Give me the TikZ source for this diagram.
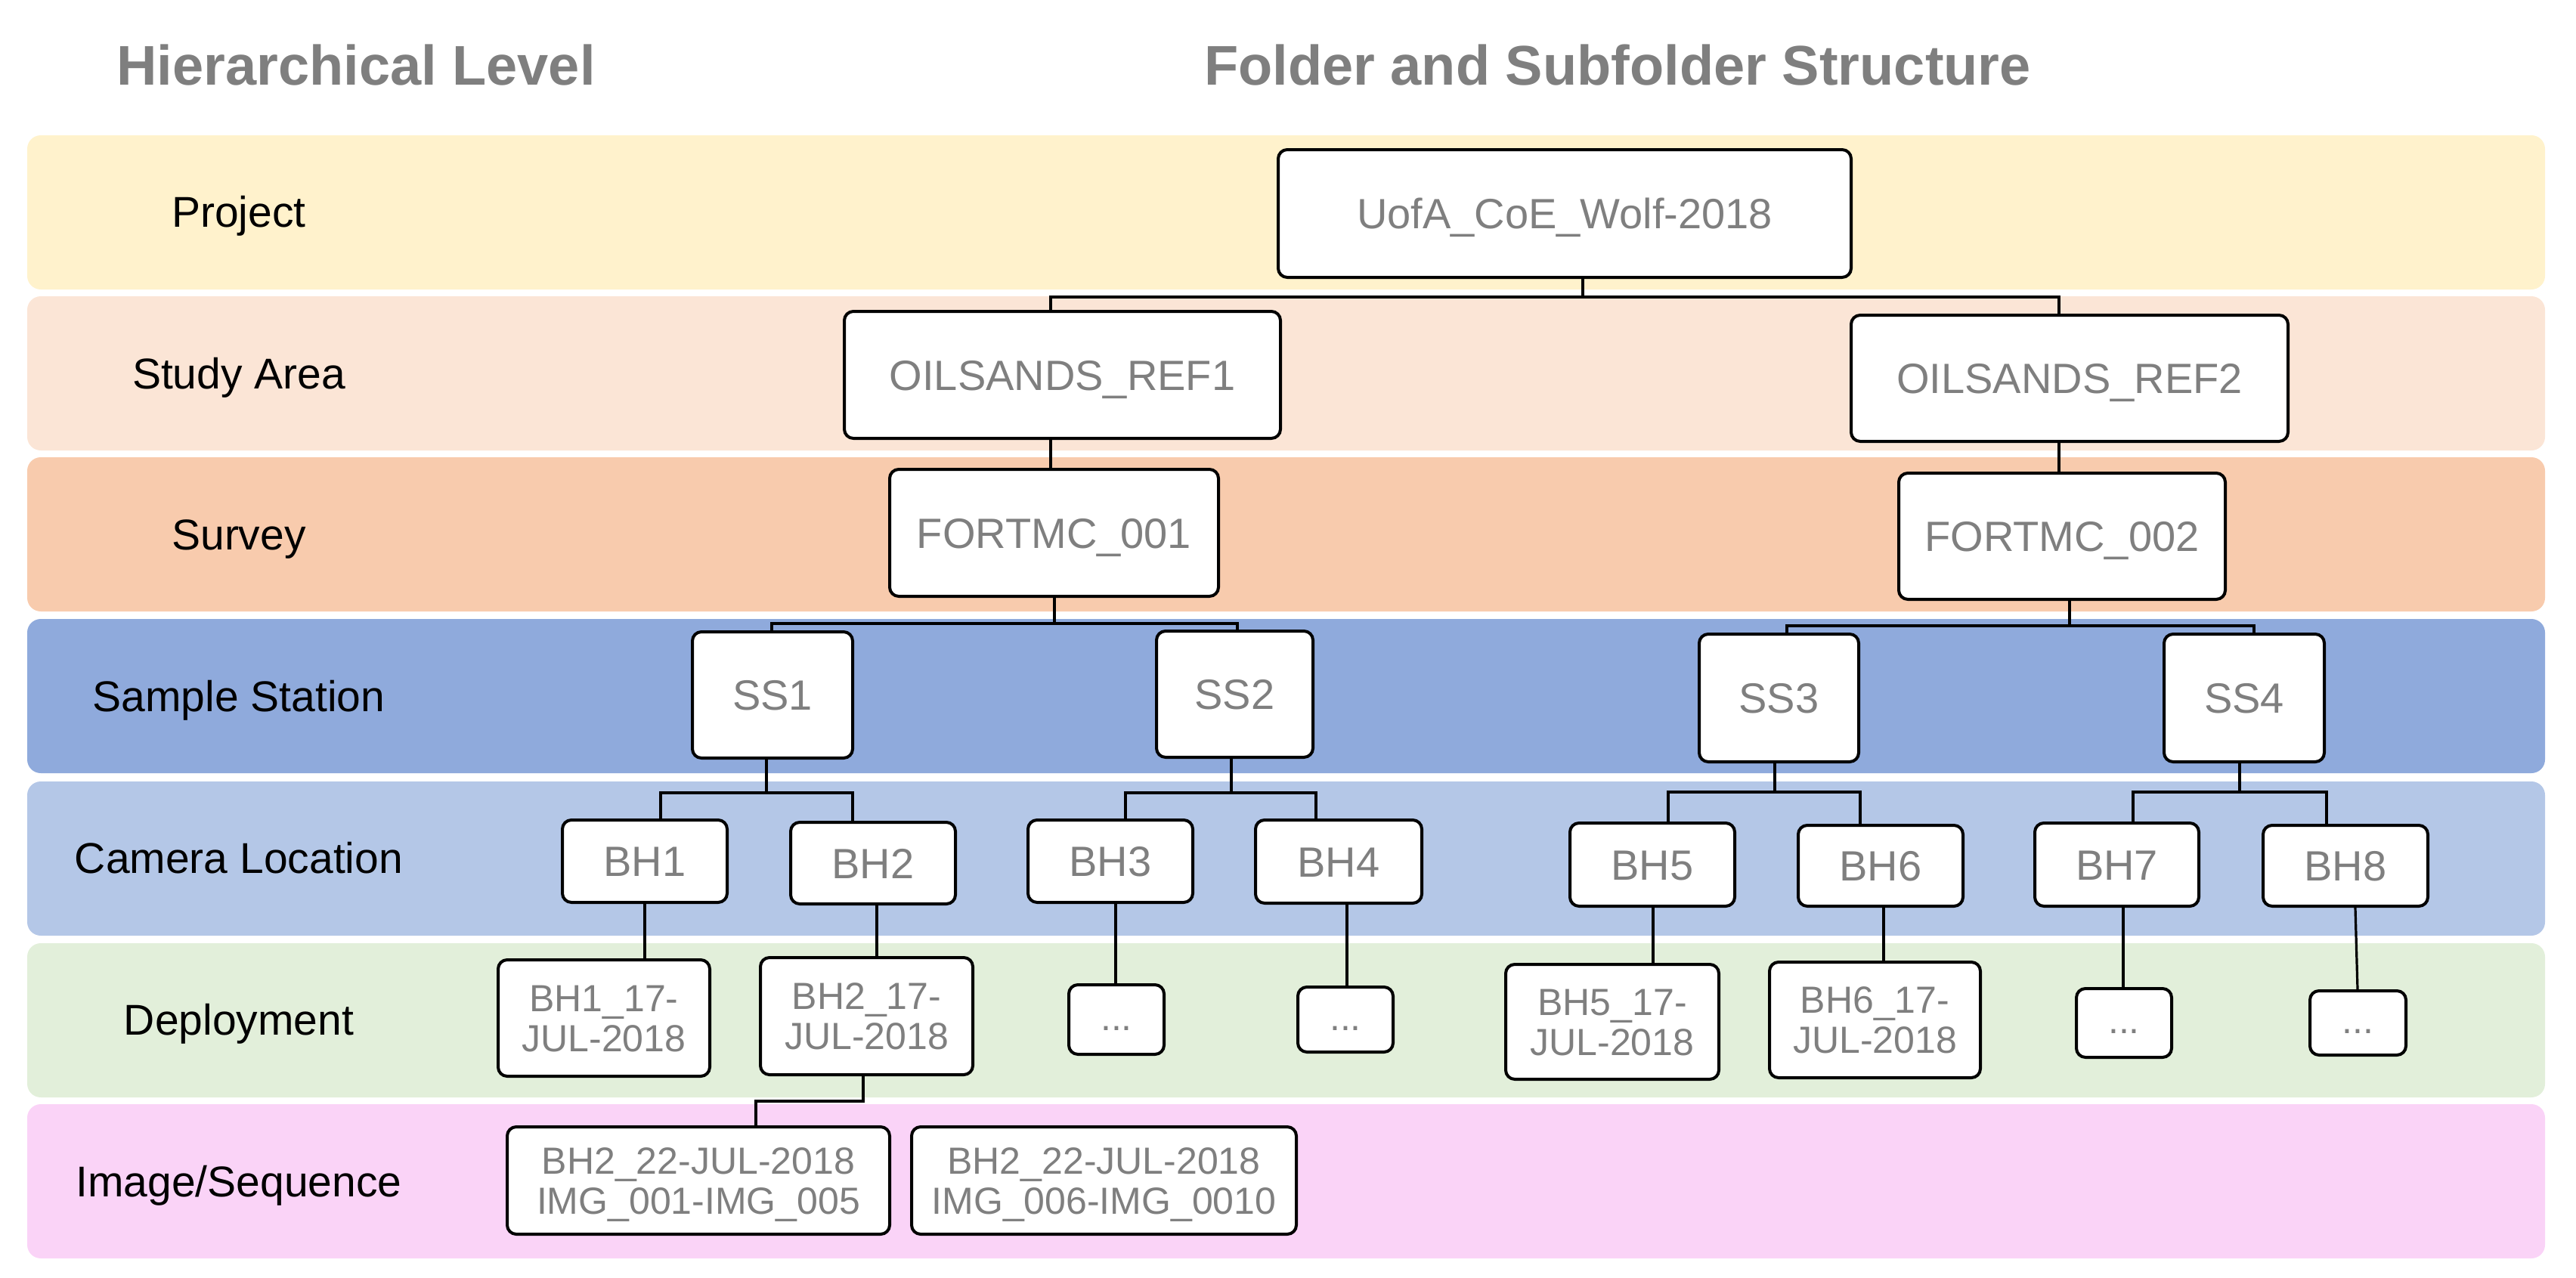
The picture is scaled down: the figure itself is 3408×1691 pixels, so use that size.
\documentclass[tikz,border=0pt]{standalone}
\usepackage{fontspec}
\setmainfont{Liberation Sans}
\definecolor{txtgray}{HTML}{7F7F7F}
\definecolor{cProj}{HTML}{FFF2CC}
\definecolor{cStudy}{HTML}{FBE5D6}
\definecolor{cSurvey}{HTML}{F8CBAD}
\definecolor{cSample}{HTML}{8FAADC}
\definecolor{cCamera}{HTML}{B4C7E7}
\definecolor{cDeploy}{HTML}{E2EFDA}
\definecolor{cImage}{HTML}{FAD3F7}
\begin{document}
\begin{tikzpicture}[x=1pt,y=-1pt,
  band/.style={draw=none, rounded corners=18pt, inner sep=0pt, minimum width=3331pt, minimum height=204pt},
  lvl/.style={font=\fontsize{57}{60}\selectfont, text=black, text height=40.8pt, text depth=0pt, inner sep=0pt},
  title/.style={font=\fontsize{74}{80}\selectfont\bfseries, text=txtgray, text height=53pt, text depth=0pt, inner sep=0pt},
  box/.style={draw=black, line width=4pt, rounded corners=12pt, fill=white, inner sep=0pt, text=txtgray,
    font=\fontsize{56}{60}\selectfont, text height=40pt, text depth=0pt},
  two/.style={font=\fontsize{50}{53}\selectfont, align=center, text height=88.8pt, text depth=0pt},
  dots/.style={font=\fontsize{50}{53}\selectfont, text height=28pt, text depth=0pt},
  conn/.style={draw=black, line width=3.2pt}
]
\useasboundingbox (0,0) rectangle (3408,1691);
% titles
\node[title] (t1) at (471,86) {Hierarchical Level};
\node[title] (t2) at (2140,86) {Folder and Subfolder Structure};
% bands
\node[band, fill=cProj]   (bP) at (1701.5,281) {};
\node[band, fill=cStudy]  (bA) at (1701.5,494) {};
\node[band, fill=cSurvey] (bS) at (1701.5,707) {};
\node[band, fill=cSample] (bT) at (1701.5,921) {};
\node[band, fill=cCamera] (bC) at (1701.5,1136) {};
\node[band, fill=cDeploy] (bD) at (1701.5,1350) {};
\node[band, fill=cImage]  (bI) at (1701.5,1563) {};
% level labels
\node[lvl] (lP) at (316,280) {Project};
\node[lvl] (lA) at (316,494) {Study Area};
\node[lvl] (lS) at (316,707) {Survey};
\node[lvl] (lT) at (316,921) {Sample Station};
\node[lvl] (lC) at (316,1135) {Camera Location};
\node[lvl] (lD) at (316,1349) {Deployment};
\node[lvl] (lI) at (316,1563) {Image/Sequence};
% boxes
\node[box, minimum width=758pt, minimum height=169pt] (proj) at (2070,282.5) {UofA\_CoE\_Wolf-2018};
\node[box, minimum width=577pt, minimum height=168pt] (ref1) at (1405.5,496) {OILSANDS\_REF1};
\node[box, minimum width=578pt, minimum height=167pt] (ref2) at (2738,500.5) {OILSANDS\_REF2};
\node[box, minimum width=435pt, minimum height=168pt] (f1) at (1394.5,705) {FORTMC\_001};
\node[box, minimum width=432pt, minimum height=167pt] (f2) at (2728,709.5) {FORTMC\_002};
\node[box, minimum width=212pt, minimum height=167pt] (ss1) at (1022,919.5) {SS1};
\node[box, minimum width=207pt, minimum height=167pt] (ss2) at (1633.5,918.5) {SS2};
\node[box, minimum width=211pt, minimum height=169pt] (ss3) at (2353.5,923.5) {SS3};
\node[box, minimum width=212pt, minimum height=169pt] (ss4) at (2969,923.5) {SS4};
\node[box, minimum width=218pt, minimum height=109pt] (bh1) at (853,1139.5) {BH1};
\node[box, minimum width=218pt, minimum height=108pt] (bh2) at (1155,1142) {BH2};
\node[box, minimum width=218pt, minimum height=109pt] (bh3) at (1469,1139.5) {BH3};
\node[box, minimum width=220pt, minimum height=110pt] (bh4) at (1771,1140) {BH4};
\node[box, minimum width=218pt, minimum height=110pt] (bh5) at (2186,1144) {BH5};
\node[box, minimum width=218pt, minimum height=107pt] (bh6) at (2488,1145.5) {BH6};
\node[box, minimum width=217pt, minimum height=110pt] (bh7) at (2800.5,1144) {BH7};
\node[box, minimum width=218pt, minimum height=107pt] (bh8) at (3103,1145.5) {BH8};
\node[box, two, minimum width=280pt, minimum height=154pt] (d1) at (799,1347) {BH1\_17-\\JUL-2018};
\node[box, two, minimum width=281pt, minimum height=155pt] (d2) at (1146.5,1344.5) {BH2\_17-\\JUL-2018};
\node[box, dots, minimum width=126pt, minimum height=92pt] (d3) at (1477,1349) {...};
\node[box, dots, minimum width=126pt, minimum height=86pt] (d4) at (1780,1349) {...};
\node[box, two, minimum width=282pt, minimum height=152pt] (d5) at (2133,1352) {BH5\_17-\\JUL-2018};
\node[box, two, minimum width=279pt, minimum height=153pt] (d6) at (2480.5,1349.5) {BH6\_17-\\JUL-2018};
\node[box, dots, minimum width=126pt, minimum height=91pt] (d7) at (2810,1353.5) {...};
\node[box, dots, minimum width=127pt, minimum height=85pt] (d8) at (3119.5,1353.5) {...};
\node[box, two, minimum width=506pt, minimum height=142pt] (i1) at (924,1562) {BH2\_22-JUL-2018\\IMG\_001-IMG\_005};
\node[box, two, minimum width=509pt, minimum height=142pt] (i2) at (1460.5,1562) {BH2\_22-JUL-2018\\IMG\_006-IMG\_0010};
% junction coordinates
\coordinate (jP) at (2094,393);
\coordinate (aR1) at (1390,393);
\coordinate (aR2) at (2724,393);
\coordinate (jF1) at (1395,825);
\coordinate (aS1) at (1021,825);
\coordinate (aS2) at (1637,825);
\coordinate (jF2) at (2738,828);
\coordinate (aS3) at (2364,828);
\coordinate (aS4) at (2982,828);
\coordinate (jS1) at (1014,1049);
\coordinate (aB1) at (874,1049);
\coordinate (aB2) at (1128,1049);
\coordinate (jS2) at (1629,1049);
\coordinate (aB3) at (1489,1049);
\coordinate (aB4) at (1741,1049);
\coordinate (jS3) at (2348,1048);
\coordinate (aB5) at (2207,1048);
\coordinate (aB6) at (2461,1048);
\coordinate (jS4) at (2963,1048);
\coordinate (aB7) at (2822,1048);
\coordinate (aB8) at (3078,1048);
\coordinate (v1) at (853,0);
\coordinate (v2) at (1160,0);
\coordinate (v3) at (1476,0);
\coordinate (v4) at (1782,0);
\coordinate (v5) at (2187,0);
\coordinate (v6) at (2492,0);
\coordinate (v7) at (2809,0);
\coordinate (v8a) at (3116,0);
\coordinate (v8b) at (3119,0);
\coordinate (jD) at (1142,1457);
\coordinate (aI) at (1000,1457);
% connectors
\draw[conn] (proj.south -| jP) -- (jP);
\draw[conn] (ref1.north -| aR1) -- (aR1) -- (aR2) -- (ref2.north -| aR2);
\draw[conn] (ref1.south -| aR1) -- (f1.north -| aR1);
\draw[conn] (ref2.south -| aR2) -- (f2.north -| aR2);
\draw[conn] (f1.south -| jF1) -- (jF1);
\draw[conn] (ss1.north -| aS1) -- (aS1) -- (aS2) -- (ss2.north -| aS2);
\draw[conn] (f2.south -| jF2) -- (jF2);
\draw[conn] (ss3.north -| aS3) -- (aS3) -- (aS4) -- (ss4.north -| aS4);
\draw[conn] (ss1.south -| jS1) -- (jS1);
\draw[conn] (bh1.north -| aB1) -- (aB1) -- (aB2) -- (bh2.north -| aB2);
\draw[conn] (ss2.south -| jS2) -- (jS2);
\draw[conn] (bh3.north -| aB3) -- (aB3) -- (aB4) -- (bh4.north -| aB4);
\draw[conn] (ss3.south -| jS3) -- (jS3);
\draw[conn] (bh5.north -| aB5) -- (aB5) -- (aB6) -- (bh6.north -| aB6);
\draw[conn] (ss4.south -| jS4) -- (jS4);
\draw[conn] (bh7.north -| aB7) -- (aB7) -- (aB8) -- (bh8.north -| aB8);
\draw[conn] (bh1.south -| v1) -- (d1.north -| v1);
\draw[conn] (bh2.south -| v2) -- (d2.north -| v2);
\draw[conn] (bh3.south -| v3) -- (d3.north -| v3);
\draw[conn] (bh4.south -| v4) -- (d4.north -| v4);
\draw[conn] (bh5.south -| v5) -- (d5.north -| v5);
\draw[conn] (bh6.south -| v6) -- (d6.north -| v6);
\draw[conn] (bh7.south -| v7) -- (d7.north -| v7);
\draw[conn] (bh8.south -| v8a) -- (d8.north -| v8b);
\draw[conn] (d2.south -| jD) -- (jD) -- (aI) -- (i1.north -| aI);
\end{tikzpicture}
\end{document}
